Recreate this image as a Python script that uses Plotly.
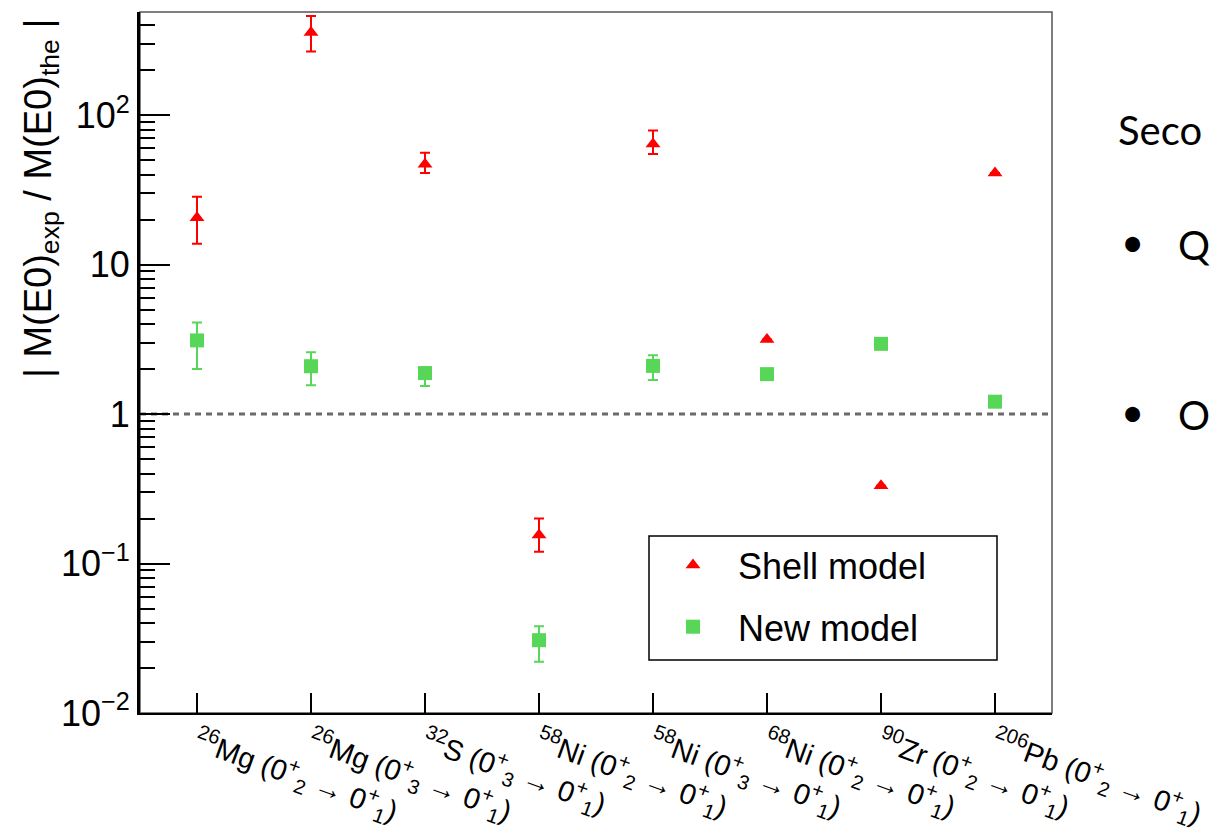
import plotly.graph_objects as go

# ---------------- data ----------------
categories = [
    "<sup>26</sup>Mg (0<sup>+</sup><sub>2</sub> → 0<sup>+</sup><sub>1</sub>)",
    "<sup>26</sup>Mg (0<sup>+</sup><sub>3</sub> → 0<sup>+</sup><sub>1</sub>)",
    "<sup>32</sup>S (0<sup>+</sup><sub>3</sub> → 0<sup>+</sup><sub>1</sub>)",
    "<sup>58</sup>Ni (0<sup>+</sup><sub>2</sub> → 0<sup>+</sup><sub>1</sub>)",
    "<sup>58</sup>Ni (0<sup>+</sup><sub>3</sub> → 0<sup>+</sup><sub>1</sub>)",
    "<sup>68</sup>Ni (0<sup>+</sup><sub>2</sub> → 0<sup>+</sup><sub>1</sub>)",
    "<sup>90</sup>Zr (0<sup>+</sup><sub>2</sub> → 0<sup>+</sup><sub>1</sub>)",
    "<sup>206</sup>Pb (0<sup>+</sup><sub>2</sub> → 0<sup>+</sup><sub>1</sub>)",
]
positions = list(range(len(categories)))

shell_y = [20.6, 357, 47, 0.155, 64, 3.16, 0.331, 41]
shell_hi = [28.4, 460, 56, 0.20, 79, 3.16, 0.331, 41]
shell_lo = [13.8, 267, 41, 0.12, 55, 3.16, 0.331, 41]

new_y = [3.11, 2.09, 1.88, 0.0307, 2.1, 1.85, 2.95, 1.21]
new_hi = [4.1, 2.59, 2.05, 0.038, 2.47, 1.85, 2.95, 1.21]
new_lo = [2.0, 1.56, 1.54, 0.022, 1.69, 1.85, 2.95, 1.21]

y_tickvals = [0.01, 0.1, 1, 10, 100]
y_ticktext = ["10<sup>−2</sup>", "10<sup>−1</sup>", "1", "10", "10<sup>2</sup>"]
y_minor_vals = [m * d for d in (0.01, 0.1, 1, 10, 100) for m in range(2, 10)]

# ---------------- figure ----------------
FONT = "Arial"
RED = "#ff0000"
GREEN = "#57d657"

fig = go.Figure()
fig.add_trace(go.Scatter(
    x=positions, y=shell_y, mode="markers", name="Shell model",
    legendgroup="a",
    marker=dict(symbol="triangle-up", size=13, color=RED),
    error_y=dict(type="data", symmetric=False,
                 array=[h - v for h, v in zip(shell_hi, shell_y)],
                 arrayminus=[v - l for l, v in zip(shell_lo, shell_y)],
                 color=RED, thickness=2, width=5),
))
fig.add_trace(go.Scatter(
    x=positions, y=new_y, mode="markers", name="New model",
    legendgroup="b",
    marker=dict(symbol="square", size=14, color=GREEN),
    error_y=dict(type="data", symmetric=False,
                 array=[h - v for h, v in zip(new_hi, new_y)],
                 arrayminus=[v - l for l, v in zip(new_lo, new_y)],
                 color=GREEN, thickness=2, width=5),
))

L, R, T, B = 140, 158, 12, 127
W, H = 1210, 840
pw, ph = W - L - R, H - T - B

def px_x(x):
    return (x - L) / pw

def px_y(y):
    return (H - B - y) / ph

fig.update_layout(
    template="none",
    width=W, height=H,
    margin=dict(l=L, r=R, t=T, b=B, pad=0, autoexpand=False),
    paper_bgcolor="white", plot_bgcolor="white",
    font=dict(family=FONT, color="black"),
    showlegend=True,
    legend=dict(x=px_x(648), y=px_y(535), xanchor="left", yanchor="top",
                font=dict(size=36, family=FONT, color="black"),
                bgcolor="rgba(0,0,0,0)", borderwidth=0,
                tracegroupgap=12, itemwidth=80),
    xaxis=dict(range=[-0.5, 7.5], tickmode="array", tickvals=positions,
               ticktext=categories, tickangle=20, automargin=False,
               tickfont=dict(size=29, family=FONT, color="black"),
               ticks="inside", ticklen=20, tickwidth=1.5, tickcolor="black",
               showline=True, linecolor="black", linewidth=1.5,
               showgrid=False, zeroline=False),
    yaxis=dict(type="log", range=[-2, 2.69], tickmode="array",
               tickvals=y_tickvals, ticktext=y_ticktext, automargin=False,
               tickfont=dict(size=36, family=FONT, color="black"),
               ticks="inside", ticklen=30, tickwidth=1.5, tickcolor="black",
               minor=dict(tickmode="array", tickvals=y_minor_vals,
                          ticks="inside", ticklen=15, tickwidth=1.5,
                          tickcolor="black", showgrid=False),
               showline=True, linecolor="black", linewidth=3,
               showgrid=False, zeroline=False),
)

# frame (top/right)
fig.add_shape(type="rect", xref="paper", yref="paper", x0=0, x1=1, y0=0, y1=1,
              line=dict(color="#555555", width=1.5), layer="below")
# reference line at 1
fig.add_shape(type="line", xref="paper", yref="y", x0=0, x1=1, y0=1, y1=1,
              line=dict(color="#6b6b6b", width=3, dash="6px,5px"), layer="below")
# legend box
fig.add_shape(type="rect", xref="paper", yref="paper",
              x0=px_x(649), x1=px_x(997), y0=px_y(660), y1=px_y(536),
              line=dict(color="black", width=1.5), layer="above")

# y-axis title
fig.add_annotation(text="| M(E0)<sub>exp</sub> / M(E0)<sub>the</sub> |",
                   xref="paper", yref="paper", x=px_x(41), y=px_y(199),
                   xanchor="center", yanchor="middle", textangle=-90,
                   showarrow=False, font=dict(size=38, family=FONT, color="black"))

# slide text on the right
SLIDE = "Lato, Open Sans, sans-serif"
fig.add_annotation(text="Seco", xref="paper", yref="paper",
                   x=px_x(1116), y=px_y(130), xanchor="left", yanchor="middle",
                   showarrow=False, font=dict(size=40, family=SLIDE, color="black"))
fig.add_annotation(text="•", xref="paper", yref="paper",
                   x=px_x(1119), y=px_y(242), xanchor="left", yanchor="middle",
                   showarrow=False, font=dict(size=40, family=SLIDE, color="black"))
fig.add_annotation(text="Q", xref="paper", yref="paper",
                   x=px_x(1176), y=px_y(245), xanchor="left", yanchor="middle",
                   showarrow=False, font=dict(size=40, family=SLIDE, color="black"))
fig.add_annotation(text="•", xref="paper", yref="paper",
                   x=px_x(1119), y=px_y(412), xanchor="left", yanchor="middle",
                   showarrow=False, font=dict(size=40, family=SLIDE, color="black"))
fig.add_annotation(text="O", xref="paper", yref="paper",
                   x=px_x(1176), y=px_y(415), xanchor="left", yanchor="middle",
                   showarrow=False, font=dict(size=40, family=SLIDE, color="black"))

fig.write_html("out.html", config={"displayModeBar": False},
               post_script="document.body.style.margin='0';")
